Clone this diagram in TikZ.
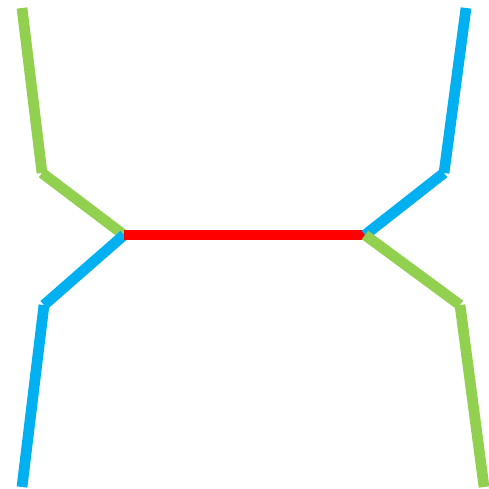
\documentclass[tikz,border=0pt]{standalone}
\definecolor{legGreen}{RGB}{146,208,80}
\definecolor{legBlue}{RGB}{0,176,240}
\begin{document}
\begin{tikzpicture}[x=0.02cm,y=-0.02cm,
    bar/.style={line width=0.215cm}]
            \useasboundingbox (0,0) rectangle (489,489);
            \coordinate (cl) at (124,235);
            \coordinate (cr) at (365,235);
            \coordinate (glt) at (22,8);
            \coordinate (glm) at (42,173);
            \coordinate (blm) at (44,305);
            \coordinate (blb) at (22,487);
            \coordinate (brt) at (466,8);
            \coordinate (brm) at (444,173);
            \coordinate (grm) at (460,305);
            \coordinate (grb) at (484,487);
            % each segment on its own, butt ends
            \draw[bar,legGreen] (glt) -- (glm);
            \draw[bar,legGreen] (glm) -- (cl);
            \draw[bar,legBlue] (cl) -- (blm);
            \draw[bar,legBlue] (blm) -- (blb);
            \draw[bar,red] (cl) -- (cr);
            \draw[bar,legBlue] (brt) -- (brm);
            \draw[bar,legBlue] (brm) -- (cr);
            \draw[bar,legGreen] (cr) -- (grm);
            \draw[bar,legGreen] (grm) -- (grb);
        \end{tikzpicture}
\end{document}
